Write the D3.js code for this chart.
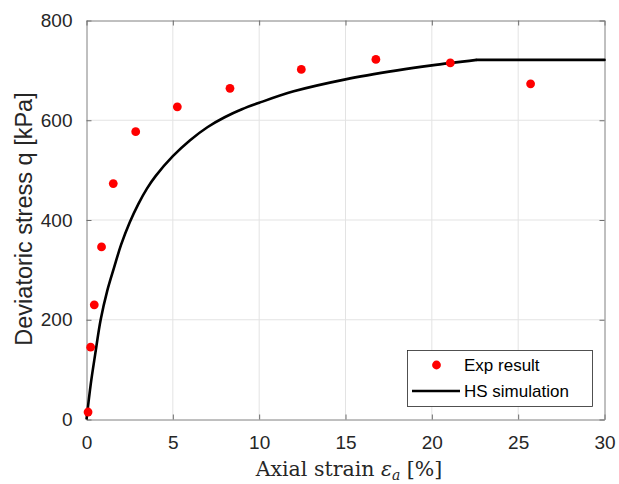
<!DOCTYPE html>
<html><head><meta charset="utf-8">
<script src="https://cdn.jsdelivr.net/npm/d3@7"></script>
<style>body{margin:0;background:#fff}svg{display:block}</style>
</head><body>
<script>
// Experimental data
const expStrain = [0.09, 0.24, 0.45, 0.87, 1.55, 2.85, 5.26, 8.31, 12.44, 16.76, 21.07, 25.72];
const expQ      = [15, 145, 230, 346, 473, 577, 627, 664, 702, 722, 715, 673];
// HS simulation curve
const simStrain = [0, 0.25, 0.5, 0.82, 1.2, 1.6, 2, 2.5, 3, 3.5, 4, 5, 6, 7, 8, 9, 10, 12, 15, 18, 20, 22.6, 30];
const simQ      = [0, 72, 130, 200, 258, 305, 350, 395, 432, 463, 488, 528, 560, 586, 606, 622, 635, 658, 682, 700, 710, 721, 721];
const xTicks = [0, 5, 10, 15, 20, 25, 30];
const yTicks = [0, 200, 400, 600, 800];
const legendLabels = ["Exp result", "HS simulation"];

const W = 619, H = 484;
const L = 86.5, R = 604.5, T = 20.5, B = 419.5;
const svg = d3.select("body").append("svg").attr("width", W).attr("height", H);
const x = d3.scaleLinear().domain([0, 30]).range([L, R]);
const y = d3.scaleLinear().domain([0, 800]).range([B, T]);
const font = "'Liberation Sans', Arial, sans-serif";
const axCol = "#262626";

// grid
const g = svg.append("g");
g.selectAll(".gx").data(xTicks.slice(1, -1)).join("line")
  .attr("x1", d => x(d)).attr("x2", d => x(d)).attr("y1", T).attr("y2", B)
  .attr("stroke", "#e3e3e3").attr("stroke-width", 1);
g.selectAll(".gy").data(yTicks.slice(1, -1)).join("line")
  .attr("y1", d => y(d)).attr("y2", d => y(d)).attr("x1", L).attr("x2", R)
  .attr("stroke", "#e3e3e3").attr("stroke-width", 1);

// axes
const xAxis = d3.axisBottom(x).tickValues(xTicks).tickSizeInner(-5).tickSizeOuter(0).tickPadding(16);
const yAxis = d3.axisLeft(y).tickValues(yTicks).tickSizeInner(-5).tickSizeOuter(0).tickPadding(14);
const xTop = d3.axisTop(x).tickValues(xTicks).tickSizeInner(-5).tickSizeOuter(0).tickFormat("");
const yRight = d3.axisRight(y).tickValues(yTicks).tickSizeInner(-5).tickSizeOuter(0).tickFormat("");
function style(sel) {
  sel.select(".domain").attr("stroke", "#808080").attr("stroke-width", 1);
  sel.selectAll(".tick line").attr("stroke", "#6e6e6e");
  sel.selectAll("text").attr("fill", axCol).style("font-family", font).style("font-size", "19px");
}
svg.append("g").attr("transform", `translate(0,${B})`).call(xAxis).call(style);
svg.append("g").attr("transform", `translate(${L},0)`).call(yAxis).call(style);
svg.append("g").attr("transform", `translate(0,${T})`).call(xTop).call(style);
svg.append("g").attr("transform", `translate(${R},0)`).call(yRight).call(style);

// simulation line: smooth rising part, then straight plateau
const simData = simStrain.map((s, i) => [s, simQ[i]]);
const k = simStrain.indexOf(22.6);
const lineGen = d3.line().x(d => x(d[0])).y(d => y(d[1]));
svg.append("path").datum(simData.slice(0, k + 1))
  .attr("d", lineGen.curve(d3.curveCatmullRom.alpha(0.5)))
  .attr("fill", "none").attr("stroke", "#000").attr("stroke-width", 2.6).attr("stroke-linejoin", "round");
svg.append("path").datum(simData.slice(k))
  .attr("d", d3.line().x(d => x(d[0])).y(d => y(d[1])))
  .attr("fill", "none").attr("stroke", "#000").attr("stroke-width", 2.6).attr("stroke-linecap", "round");

// experimental points
svg.selectAll(".pt").data(expStrain.map((s, i) => [s, expQ[i]])).join("circle")
  .attr("cx", d => x(d[0])).attr("cy", d => y(d[1])).attr("r", 4.4).attr("fill", "#ff0000");

// labels
svg.append("text").attr("transform", `translate(32,${(88 + 350) / 2}) rotate(-90)`)
  .attr("text-anchor", "middle").attr("fill", axCol)
  .style("font-family", font).style("font-size", "23.5px")
  .text("Deviatoric stress q [kPa]");
const xl = svg.append("text").attr("x", 349).attr("y", 476).attr("text-anchor", "middle")
  .attr("fill", axCol).style("font-family", "'DejaVu Serif', 'Liberation Serif', serif").style("font-size", "20.5px");
xl.append("tspan").text("Axial strain ");
xl.append("tspan").style("font-style", "italic").text("ε");
xl.append("tspan").attr("dy", 4).style("font-style", "italic").style("font-size", "14px").text("a");
xl.append("tspan").attr("dy", -4).text(" [%]");

// legend
const lg = svg.append("g");
lg.append("rect").attr("x", 407.5).attr("y", 350.5).attr("width", 185).attr("height", 56)
  .attr("fill", "#fff").attr("stroke", axCol).attr("stroke-width", 0.8);
lg.append("circle").attr("cx", 436.5).attr("cy", 365).attr("r", 4.4).attr("fill", "#ff0000");
lg.append("line").attr("x1", 412).attr("x2", 460).attr("y1", 391).attr("y2", 391)
  .attr("stroke", "#000").attr("stroke-width", 2.6);
lg.selectAll(".lt").data(legendLabels).join("text")
  .attr("x", 464).attr("y", (d, i) => 371 + i * 26)
  .attr("fill", "#000").style("font-family", font).style("font-size", "17px").text(d => d);
</script>
</body></html>
